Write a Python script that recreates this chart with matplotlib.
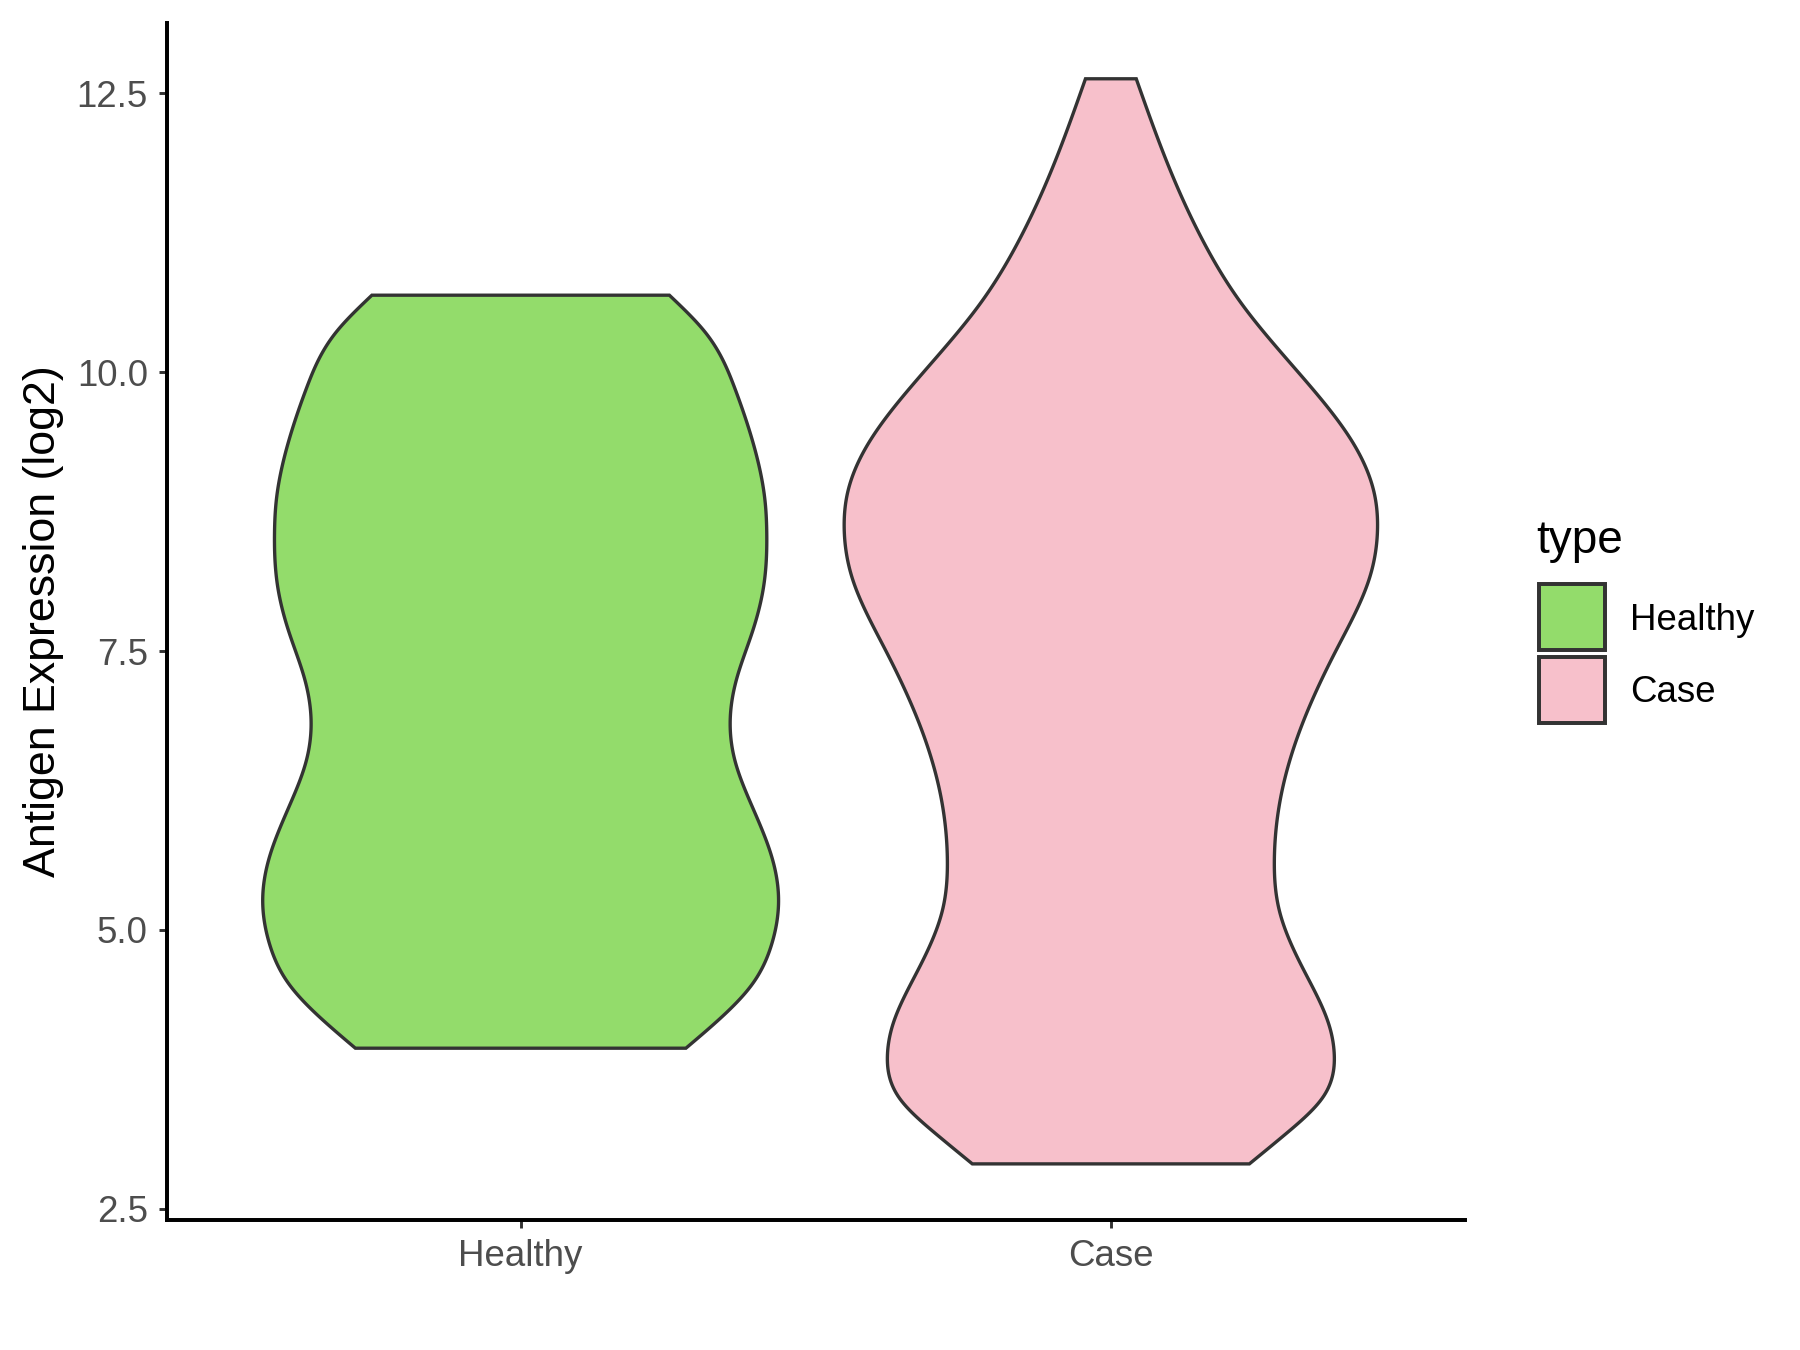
import numpy as np
import matplotlib
matplotlib.use("Agg")
import matplotlib.pyplot as plt
from matplotlib.patches import Rectangle, Polygon

# ---- data (violin half-widths in x-axis units) ----
categories = ["Healthy", "Case"]
fill_colors = ["#93DC6B", "#F7C0CB"]

healthy_y = [3.94, 4.192, 4.511, 4.877, 5.265, 5.653, 6.11, 6.52, 6.863, 7.251,
             7.662, 8.073, 8.553, 8.849, 9.306, 9.854, 10.356, 10.69]
healthy_hw = [0.280, 0.335, 0.392, 0.4256, 0.437, 0.4256, 0.392, 0.363, 0.355, 0.366,
              0.392, 0.4115, 0.417, 0.414, 0.397, 0.363, 0.313, 0.252]

case_y = [2.903, 3.173, 3.496, 3.884, 4.142, 4.659, 5.175, 5.627, 6.272, 6.855,
          7.50, 8.146, 8.598, 8.921, 9.373, 9.954, 10.60, 11.181, 11.827, 12.63]
case_hw = [0.2347, 0.2966, 0.3587, 0.3785, 0.370, 0.325, 0.2854, 0.277, 0.291, 0.325,
           0.381, 0.4377, 0.4518, 0.446, 0.4095, 0.3249, 0.2234, 0.1557, 0.0993, 0.043]

yticks = [2.5, 5.0, 7.5, 10.0, 12.5]
ytick_labels = ["2.5", "5.0", "7.5", "10.0", "12.5"]
ylabel = "Antigen Expression (log2)"
legend_title = "type"


def smooth(ys, ws, n=400):
    """Natural cubic spline rendering of the profile through the read points."""
    x = np.asarray(ys, float)
    y = np.asarray(ws, float)
    m = len(x)
    h = np.diff(x)
    A = np.zeros((m, m))
    r = np.zeros(m)
    A[0, 0] = A[-1, -1] = 1.0
    for i in range(1, m - 1):
        A[i, i - 1] = h[i - 1]
        A[i, i] = 2 * (h[i - 1] + h[i])
        A[i, i + 1] = h[i]
        r[i] = 6 * ((y[i + 1] - y[i]) / h[i] - (y[i] - y[i - 1]) / h[i - 1])
    M = np.linalg.solve(A, r)
    xs = np.linspace(x[0], x[-1], n)
    idx = np.clip(np.searchsorted(x, xs) - 1, 0, m - 2)
    x0, x1 = x[idx], x[idx + 1]
    hh = x1 - x0
    a = (x1 - xs) / hh
    b = (xs - x0) / hh
    out = (a * y[idx] + b * y[idx + 1] +
           ((a ** 3 - a) * M[idx] + (b ** 3 - b) * M[idx + 1]) * hh ** 2 / 6)
    return xs, out


plt.rcParams['font.family'] = ['Liberation Sans', 'DejaVu Sans']

fig = plt.figure(figsize=(12, 9), dpi=150)
W, H = 1800, 1350
ax = fig.add_axes([166.5 / W, 1 - 1220 / H, (1465 - 166.5) / W, (1220 - 23) / H])

profiles = [(healthy_y, healthy_hw), (case_y, case_hw)]
for i, ((ys, ws), col) in enumerate(zip(profiles, fill_colors)):
    cx = i + 1
    sy, sw = smooth(ys, ws)
    left = np.column_stack([cx - sw, sy])
    right = np.column_stack([cx + sw, sy])[::-1]
    poly = np.vstack([left, right])
    ax.add_patch(Polygon(poly, closed=True, facecolor=col, edgecolor="#333333",
                         linewidth=1.6, joinstyle="miter", zorder=2))

ax.set_xlim(0.4, 2.6)
ax.set_ylim(2.40, 13.13)
ax.set_xticks([1, 2])
ax.set_xticklabels(categories)
ax.set_yticks(yticks)
ax.set_yticklabels(ytick_labels)

for s in ["top", "right"]:
    ax.spines[s].set_visible(False)
for s in ["left", "bottom"]:
    ax.spines[s].set_linewidth(1.9)
    ax.spines[s].set_color("black")

ax.tick_params(axis="both", length=4, width=1.4, color="#333333",
               labelsize=17.6, labelcolor="#4D4D4D", pad=5)
ax.set_ylabel(ylabel, fontsize=21.5, color="black", labelpad=6)

# legend (ggplot-style, placed on the right)
fig.text(1536 / W, 1 - 541 / H, legend_title, fontsize=22, ha="left", va="center")
key_tops = [584, 657]
for col, lab, kt in zip(fill_colors, categories, key_tops):
    fig.add_artist(Rectangle((1539 / W, 1 - (kt + 66) / H), 66 / W, 66 / H,
                             transform=fig.transFigure, facecolor=col,
                             edgecolor="#333333", linewidth=1.9))
    fig.text(1630 / W, 1 - (kt + 36) / H, lab, fontsize=17.6, ha="left", va="center")

fig.savefig("out.png", dpi=150)
